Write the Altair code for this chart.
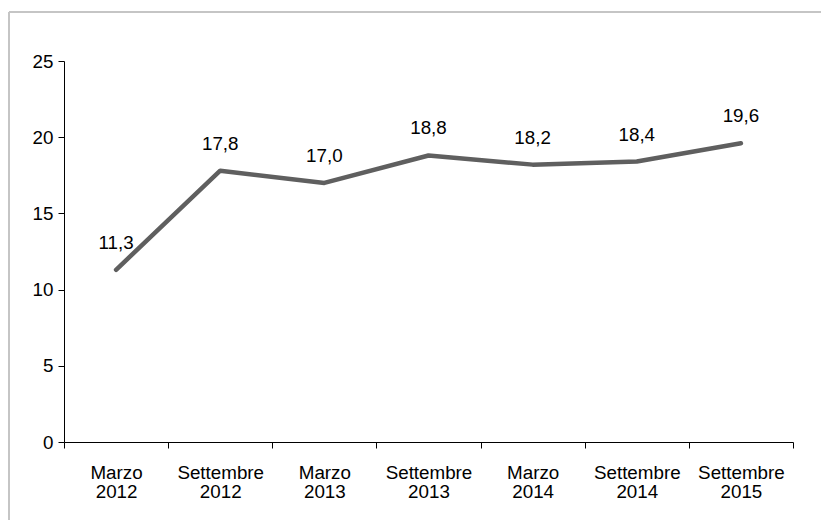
import altair as alt
import pandas as pd

# Survey periods and measured values
periods = [
    "Marzo 2012", "Settembre 2012", "Marzo 2013", "Settembre 2013",
    "Marzo 2014", "Settembre 2014", "Settembre 2015",
]
values = [11.3, 17.8, 17.0, 18.8, 18.2, 18.4, 19.6]

df = pd.DataFrame({"periodo": periods, "valore": values})

FONT = "Liberation Sans"
FS = 18.8

x_enc = alt.X(
    "periodo:N",
    sort=periods,
    title=None,
    scale=alt.Scale(paddingInner=0, paddingOuter=0),
    axis=alt.Axis(
        labelAngle=0,
        labelExpr="split(datum.label, ' ')",
        labelLineHeight=19,
        labelPadding=15,
        labelFontSize=FS,
        labelFont=FONT,
        labelColor="black",
        tickBand="extent",
        tickSize=6,
        tickColor="black",
        domainColor="black",
        labelBaseline="top",
    ),
)

y_enc = alt.Y(
    "valore:Q",
    title=None,
    scale=alt.Scale(domain=[0, 25], nice=False, zero=True),
    axis=alt.Axis(
        values=[0, 5, 10, 15, 20, 25],
        grid=False,
        labelFontSize=FS,
        labelFont=FONT,
        labelColor="black",
        labelPadding=5,
        tickSize=6,
        tickColor="black",
        domainColor="black",
    ),
)

base = alt.Chart(df).encode(x=x_enc, y=y_enc)

line = base.mark_line(color="#5f5f5f", strokeWidth=4.5, strokeCap="round", strokeJoin="round")

labels = base.transform_calculate(
    etichetta="replace(format(datum.valore, '.1f'), '.', ',')"
).mark_text(
    dy=-27, baseline="middle", align="center", fontSize=FS, font=FONT, color="black"
).encode(text="etichetta:N")

# Frame along the top and left edges of the figure
frame_top = alt.Chart(df).mark_rule(color="#c4c4c4", strokeWidth=1.5).encode(
    x=alt.value(-55), x2=alt.value(800), y=alt.value(-49)
)
frame_left = alt.Chart(df).mark_rule(color="#c4c4c4", strokeWidth=1.5).encode(
    x=alt.value(-55), y=alt.value(-49), y2=alt.value(520)
)

chart = (
    alt.layer(frame_top, frame_left, line, labels)
    .properties(
        width=729,
        height=381,
        autosize=alt.AutoSizeParams(type="none"),
        padding={"left": 64, "top": 61, "right": 28, "bottom": 78},
        background="white",
    )
    .configure_view(stroke=None)
)

chart.save("out.html", embed_options={"renderer": "svg", "actions": False})
